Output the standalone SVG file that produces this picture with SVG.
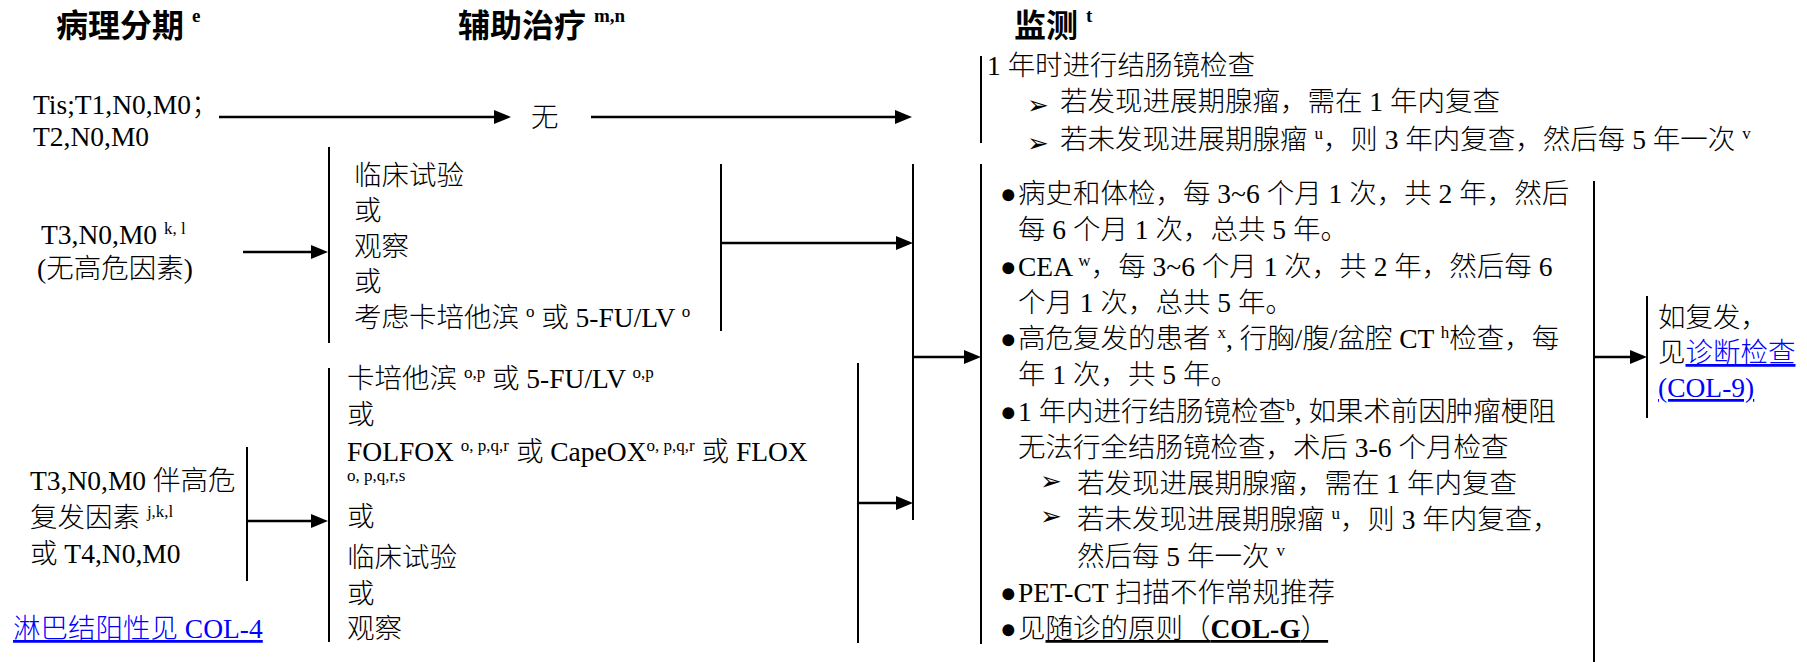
<svg xmlns="http://www.w3.org/2000/svg" width="1807" height="662" viewBox="0 0 1807 662">
<defs>
<style>
.t{font-family:'Liberation Serif','Noto Sans CJK SC',serif;font-size:27.5px;font-weight:300;fill:#000}
.h{font-family:'Liberation Serif','Noto Sans CJK SC',serif;font-size:32px;font-weight:bold;fill:#000}
.hs{font-size:19px;font-weight:bold}
.s{font-size:17px}
.ar{font-family:'DejaVu Sans',sans-serif;font-size:26px;fill:#000}
.lk{fill:#0000ff;text-decoration:underline}
.ul{text-decoration:underline}
.bar{stroke:#000;stroke-width:2;fill:none}
.arw{stroke:#000;stroke-width:2.5;fill:none;marker-end:url(#ah)}
</style>
<marker id="ah" markerUnits="userSpaceOnUse" markerWidth="17" markerHeight="14" refX="9" refY="7" orient="auto">
<path d="M0,0 L17,7 L0,14 z" fill="#000"/>
</marker>
</defs>
<rect width="1807" height="662" fill="#fff"/>

<g id="headers">
<text class="h" x="56" y="37">病理分期 <tspan class="hs" dy="-15">e</tspan></text>
<text class="h" x="458" y="37">辅助治疗 <tspan class="hs" dy="-15">m,n</tspan></text>
<text class="h" x="1014" y="37">监测 <tspan class="hs" dy="-15">t</tspan></text>
</g>

<g id="connectors">
<line class="arw" x1="219" y1="117" x2="503" y2="117"/>
<line class="arw" x1="591" y1="117" x2="904" y2="117"/>
<line class="bar" x1="981" y1="56" x2="981" y2="143"/>
<line class="arw" x1="243" y1="252" x2="320" y2="252"/>
<line class="bar" x1="329" y1="147" x2="329" y2="343"/>
<line class="bar" x1="721" y1="164" x2="721" y2="331"/>
<line class="arw" x1="721" y1="243" x2="905" y2="243"/>
<line class="bar" x1="247" y1="447" x2="247" y2="581"/>
<line class="arw" x1="247" y1="521" x2="320" y2="521"/>
<line class="bar" x1="329" y1="368" x2="329" y2="642"/>
<line class="bar" x1="858" y1="363" x2="858" y2="643"/>
<line class="arw" x1="858" y1="503" x2="905" y2="503"/>
<line class="bar" x1="913" y1="164" x2="913" y2="520"/>
<line class="arw" x1="913" y1="357" x2="973" y2="357"/>
<line class="bar" x1="981" y1="164" x2="981" y2="644"/>
<line class="bar" x1="1594" y1="181" x2="1594" y2="662"/>
<line class="arw" x1="1594" y1="357" x2="1639" y2="357"/>
<line class="bar" x1="1647" y1="296" x2="1647" y2="418"/>
</g>

<g id="stage-tis">
<text class="t" x="33" y="114">Tis;T1,N0,M0；</text>
<text class="t" x="33" y="146">T2,N0,M0</text>
</g>

<g id="adjuvant-none">
<text class="t" x="531" y="127">无</text>
</g>

<g id="surveillance-early">
<text class="t" x="987" y="75">1 年时进行结肠镜检查</text>
<text class="ar" x="1027" y="114">➢</text>
<text class="t" x="1060" y="111">若发现进展期腺瘤，需在 1 年内复查</text>
<text class="ar" x="1027" y="152">➢</text>
<text class="t" x="1060" y="149">若未发现进展期腺瘤 <tspan class="s" dy="-10">u</tspan><tspan dy="10">，则 3 年内复查，然后每 5 年一次 </tspan><tspan class="s" dy="-10">v</tspan></text>
</g>

<g id="stage-t3-low">
<text class="t" x="41" y="244">T3,N0,M0 <tspan class="s" dy="-10">k, l</tspan></text>
<text class="t" x="37" y="278">(无高危因素)</text>
</g>

<g id="adjuvant-t3-low">
<text class="t" x="354" y="185">临床试验</text>
<text class="t" x="354" y="220">或</text>
<text class="t" x="354" y="256">观察</text>
<text class="t" x="354" y="291">或</text>
<text class="t" x="354" y="327">考虑卡培他滨 <tspan class="s" dy="-10">o</tspan><tspan dy="10"> 或 5-FU/LV </tspan><tspan class="s" dy="-10">o</tspan></text>
</g>

<g id="stage-t3-high">
<text class="t" x="30" y="490">T3,N0,M0 伴高危</text>
<text class="t" x="30" y="527">复发因素 <tspan class="s" dy="-10">j,k,l</tspan></text>
<text class="t" x="30" y="563">或 T4,N0,M0</text>
</g>

<g id="adjuvant-t3-high">
<text class="t" x="347" y="388">卡培他滨 <tspan class="s" dy="-10">o,p</tspan><tspan dy="10"> 或 5-FU/LV </tspan><tspan class="s" dy="-10">o,p</tspan></text>
<text class="t" x="347" y="424">或</text>
<text class="t" x="347" y="461">FOLFOX <tspan class="s" dy="-10">o, p,q,r</tspan><tspan dy="10"> 或 CapeOX</tspan><tspan class="s" dy="-10">o, p,q,r</tspan><tspan dy="10"> 或 FLOX</tspan></text>
<text class="t s" x="347" y="481">o, p,q,r,s</text>
<text class="t" x="347" y="526">或</text>
<text class="t" x="347" y="567">临床试验</text>
<text class="t" x="347" y="603">或</text>
<text class="t" x="347" y="638">观察</text>
</g>

<g id="link-col4">
<text class="t lk" x="13" y="638">淋巴结阳性见 COL-4</text>
</g>

<g id="surveillance-main">
<text class="t" x="1000" y="203"><tspan>●</tspan><tspan x="1018">病史和体检，每 3~6 个月 1 次，共 2 年，然后</tspan></text>
<text class="t" x="1018" y="239">每 6 个月 1 次，总共 5 年。</text>
<text class="t" x="1000" y="275.5"><tspan>●</tspan><tspan x="1018">CEA </tspan><tspan class="s" dy="-10">w</tspan><tspan dy="10">，每 3~6 个月 1 次，共 2 年，然后每 6</tspan></text>
<text class="t" x="1018" y="312">个月 1 次，总共 5 年。</text>
<text class="t" x="1000" y="348"><tspan>●</tspan><tspan x="1018">高危复发的患者 </tspan><tspan class="s" dy="-10">x</tspan><tspan dy="10">, 行胸/腹/盆腔 CT </tspan><tspan class="s" dy="-10">h</tspan><tspan dy="10">检查，每</tspan></text>
<text class="t" x="1018" y="384">年 1 次，共 5 年。</text>
<text class="t" x="1000" y="420.5"><tspan>●</tspan><tspan x="1018">1 年内进行结肠镜检查</tspan><tspan class="s" dy="-10">b</tspan><tspan dy="10">, 如果术前因肿瘤梗阻</tspan></text>
<text class="t" x="1018" y="457">无法行全结肠镜检查，术后 3-6 个月检查</text>
<text class="ar" x="1040" y="490">➢</text>
<text class="t" x="1077" y="493">若发现进展期腺瘤，需在 1 年内复查</text>
<text class="ar" x="1040" y="525">➢</text>
<text class="t" x="1077" y="529">若未发现进展期腺瘤 <tspan class="s" dy="-10">u</tspan><tspan dy="10">，则 3 年内复查，</tspan></text>
<text class="t" x="1077" y="565.5">然后每 5 年一次 <tspan class="s" dy="-10">v</tspan></text>
<text class="t" x="1000" y="602"><tspan>●</tspan><tspan x="1018">PET-CT 扫描不作常规推荐</tspan></text>
<text class="t" x="1000" y="638"><tspan>●</tspan><tspan x="1018">见</tspan><tspan class="ul">随诊的原则（<tspan font-weight="bold">COL-G</tspan>）</tspan></text>
</g>

<g id="recurrence">
<text class="t" x="1658" y="327">如复发，</text>
<text class="t" x="1658" y="362">见<tspan class="lk">诊断检查</tspan></text>
<text class="t lk" x="1658" y="397">(COL-9)</text>
</g>
</svg>
